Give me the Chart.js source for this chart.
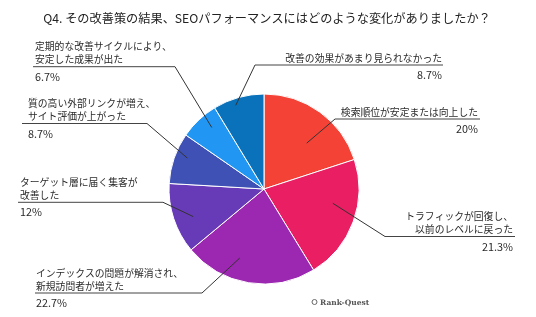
<!DOCTYPE html>
<html>
<head>
<meta charset="utf-8">
<script src="https://cdn.jsdelivr.net/npm/chart.js@4/dist/chart.umd.min.js"></script>
<style>
html,body{margin:0;padding:0;background:#fff;}
#wrap{width:536px;height:317px;position:relative;}
</style>
</head>
<body>
<div id="wrap"><canvas id="c" width="536" height="317"></canvas></div>
<script>
// ---- data ----
const titleText = "Q4. その改善策の結果、SEOパフォーマンスにはどのような変化がありましたか？";
const categories = [
  "検索順位が安定または向上した",
  "トラフィックが回復し、\n以前のレベルに戻った",
  "インデックスの問題が解消され、\n新規訪問者が増えた",
  "ターゲット層に届く集客が\n改善した",
  "質の高い外部リンクが増え、\nサイト評価が上がった",
  "定期的な改善サイクルにより、\n安定した成果が出た",
  "改善の効果があまり見られなかった"
];
const values = [20, 21.3, 22.7, 12, 8.7, 6.7, 8.7];
const colors = ["#F44336", "#E91E63", "#9C27B0", "#673AB7", "#3F51B5", "#2196F3", "#0A72BA"];
const brandText = "Rank-Quest";

// ---- label layout (positions only) ----
const labelLayout = [
  {side:'R', tx:478, uy:119,   ux0:335, ux1:480, elbow:'start', rf:0.66, da:7},
  {side:'R', tx:513, uy:236.5, ux0:385, ux1:515, elbow:'start', rf:0.74, da:-8.5},
  {side:'L', tx:36,  uy:293,   ux0:35,  ux1:202, elbow:'end',   rf:0.77, da:10},
  {side:'L', tx:20,  uy:202.3, ux0:18,  ux1:163, elbow:'end',   rf:0.80, da:-3},
  {side:'L', tx:28,  uy:123.5, ux0:22,  ux1:147, elbow:'end',   rf:0.87, da:3},
  {side:'L', tx:35,  uy:66.7,  ux0:33,  ux1:175, elbow:'end',   rf:0.85, da:3},
  {side:'R', tx:442, uy:65,    ux0:255, ux1:443, elbow:'start', rf:0.93, da:-3}
];

const FONT = '"Noto Sans CJK JP", "Noto Sans", sans-serif';

const labelPlugin = {
  id: 'labelPlugin',
  afterDatasetsDraw(chart) {
    const ctx = chart.ctx;
    const meta = chart.getDatasetMeta(0);
    ctx.save();
    ctx.fillStyle = '#222';
    ctx.font = '12.2px ' + FONT;
    ctx.textAlign = 'center';
    ctx.textBaseline = 'middle';
    ctx.fillText(titleText, 267, 18);

    meta.data.forEach((arc, i) => {
      const p = arc.getProps(['x','y','startAngle','endAngle','outerRadius'], true);
      const L = labelLayout[i];
      const mid = (p.startAngle + p.endAngle) / 2 + L.da * Math.PI / 180;
      const ax = p.x + Math.cos(mid) * p.outerRadius * L.rf;
      const ay = p.y + Math.sin(mid) * p.outerRadius * L.rf;
      const ex = L.elbow === 'start' ? L.ux0 : L.ux1;
      ctx.strokeStyle = '#333';
      ctx.lineWidth = 1;
      ctx.beginPath();
      ctx.moveTo(ax, ay);
      ctx.lineTo(ex, L.uy);
      ctx.stroke();
      ctx.strokeStyle = '#444';
      ctx.beginPath();
      ctx.moveTo(L.ux0, L.uy);
      ctx.lineTo(L.ux1, L.uy);
      ctx.stroke();
      const lines = chart.data.labels[i].split('\n');
      ctx.fillStyle = '#2a2a2a';
      ctx.font = '9.8px ' + FONT;
      ctx.textAlign = L.side === 'R' ? 'right' : 'left';
      ctx.textBaseline = 'middle';
      const lh = 13;
      lines.forEach((t, k) => {
        const y = L.uy - 7 - (lines.length - 1 - k) * lh;
        ctx.fillText(t, L.tx, y);
      });
      ctx.font = '10.8px ' + FONT;
      ctx.fillText(chart.data.datasets[0].data[i] + '%', L.tx, L.uy + 10);
    });

    ctx.fillStyle = '#555';
    ctx.font = 'bold 7.5px "DejaVu Serif", serif';
    ctx.textAlign = 'left';
    ctx.fillText(brandText, 320, 303);
    ctx.strokeStyle = '#666';
    ctx.lineWidth = 1;
    ctx.beginPath();
    ctx.arc(314.5, 302, 2.5, 0, Math.PI * 2);
    ctx.stroke();
    ctx.restore();
  }
};

new Chart(document.getElementById('c'), {
  type: 'pie',
  data: {
    labels: categories,
    datasets: [{
      data: values,
      backgroundColor: colors,
      borderColor: '#ffffff',
      borderWidth: 1
    }]
  },
  options: {
    responsive: false,
    animation: false,
    layout: { padding: { left: 168.5, top: 93.5, right: 176.5, bottom: 32.5 } },
    plugins: { legend: { display: false }, tooltip: { enabled: false }, title: { display: false } }
  },
  plugins: [labelPlugin]
});
</script>
</body>
</html>
